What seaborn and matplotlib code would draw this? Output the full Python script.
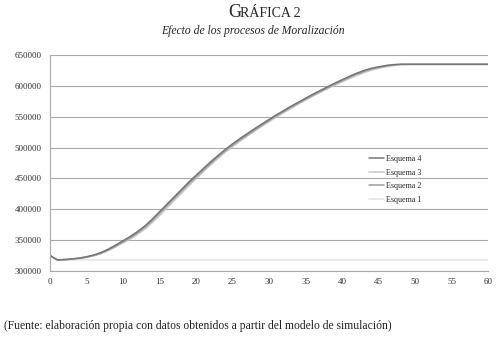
import numpy as np
import pandas as pd
import seaborn as sns
import matplotlib.pyplot as plt

# periods of the simulation
periodos = list(range(61))

esquema_4 = [325000, 318000, 318500, 319500, 321000, 323000, 326000, 330000, 335500, 342000,
             349000, 356000, 364000, 373000, 384000, 396000, 408000, 420000, 432000, 444000,
             455000, 466000, 477000, 487000, 497000, 506000, 514500, 522500, 530500, 538000,
             545500, 553000, 560000, 567000, 573500, 580000, 586500, 592500, 598500, 604500,
             610000, 615500, 620500, 625000, 628500, 631000, 633000, 634500, 635000, 635000,
             635000, 635000, 635000, 635000, 635000, 635000, 635000, 635000, 635000, 635000,
             635000]
esquema_3 = [325000, 318000, 318300, 319000, 320300, 322000, 324500, 328000, 333000, 339000,
             345500, 352000, 359500, 368000, 378500, 390000, 402000, 414000, 426000, 438000,
             449500, 461000, 472000, 482500, 492500, 501500, 510000, 518500, 526500, 534500,
             542000, 549500, 556500, 563500, 570500, 577000, 583500, 589500, 595500, 601000,
             606500, 612000, 617000, 621500, 625500, 628500, 631000, 633000, 634500, 635000,
             635000, 635000, 635000, 635000, 635000, 635000, 635000, 635000, 635000, 635000,
             635000]
esquema_2 = [325000, 318000, 318400, 319300, 320700, 322500, 325300, 329000, 334300, 340500,
             347500, 354000, 362000, 371000, 381500, 393500, 405500, 417500, 429500, 441500,
             452500, 463500, 474500, 485000, 495000, 504000, 512500, 520500, 528500, 536500,
             544000, 551500, 558500, 565500, 572000, 578500, 585000, 591000, 597000, 603000,
             608500, 614000, 619000, 623500, 627500, 630000, 632500, 634000, 635000, 635000,
             635000, 635000, 635000, 635000, 635000, 635000, 635000, 635000, 635000, 635000,
             635000]
esquema_1 = [325000] + [318000] * 60

series = {"Esquema 4": esquema_4, "Esquema 3": esquema_3,
          "Esquema 2": esquema_2, "Esquema 1": esquema_1}
colores = {"Esquema 4": "#767676", "Esquema 3": "#c6c6c6",
           "Esquema 2": "#9c9c9c", "Esquema 1": "#e2e2e2"}

df = pd.concat([pd.DataFrame({"t": periodos, "valor": v, "serie": k}) for k, v in series.items()])

sns.set_style("white")
plt.rcParams['font.family'] = ['Liberation Serif', 'DejaVu Serif']

fig = plt.figure(figsize=(4.97, 3.4), dpi=100)
ax = fig.add_axes([0.1006, 0.203, 0.8814, 0.635])

# draw lightest first so darker lines sit on top
for nombre in ["Esquema 1", "Esquema 3", "Esquema 2", "Esquema 4"]:
    sns.lineplot(data=df[df["serie"] == nombre], x="t", y="valor", color=colores[nombre],
                 lw=1.1, ax=ax, label=nombre, legend=False)

ax.set_xlim(0, 60)
ax.set_ylim(300000, 650000)
ax.set_xticks(range(0, 61, 5))
ax.set_yticks(range(300000, 650001, 50000))
ax.yaxis.grid(True, color="#a9a9a9", lw=0.8)
ax.set_xlabel("")
ax.set_ylabel("")
for s in ["top", "right"]:
    ax.spines[s].set_visible(False)
for s in ["left", "bottom"]:
    ax.spines[s].set_color("#a9a9a9")
    ax.spines[s].set_linewidth(0.8)
ax.tick_params(axis="x", direction="in", length=3, color="#a9a9a9", labelsize=6.5,
               labelcolor="#333333", pad=5)
ax.tick_params(axis="y", direction="out", length=2, color="#a9a9a9", labelsize=6.5,
               labelcolor="#333333", pad=4)

handles, labels = ax.get_legend_handles_labels()
orden = ["Esquema 4", "Esquema 3", "Esquema 2", "Esquema 1"]
hmap = dict(zip(labels, handles))
ax.legend([hmap[o] for o in orden], orden, loc="center left", bbox_to_anchor=(0.712, 0.424),
          frameon=False, fontsize=5.8, handlelength=1.9, handletextpad=0.15,
          labelspacing=0.7, borderpad=0.4)

# title block
fig.text(0.4585, 0.95, "G", fontsize=13, ha="left", va="baseline")
fig.text(0.4585 + 0.0235, 0.95, "RÁFICA 2", fontsize=10, ha="left", va="baseline")
fig.text(0.508, 0.9, "Efecto de los procesos de Moralización", fontsize=8.4,
         style="italic", ha="center", va="baseline")
fig.text(0.008, 0.032, "(Fuente: elaboración propia con datos obtenidos a partir del modelo de simulación)",
         fontsize=8.4, ha="left", va="baseline", color="#222222")

fig.savefig("out.png", dpi=100)
